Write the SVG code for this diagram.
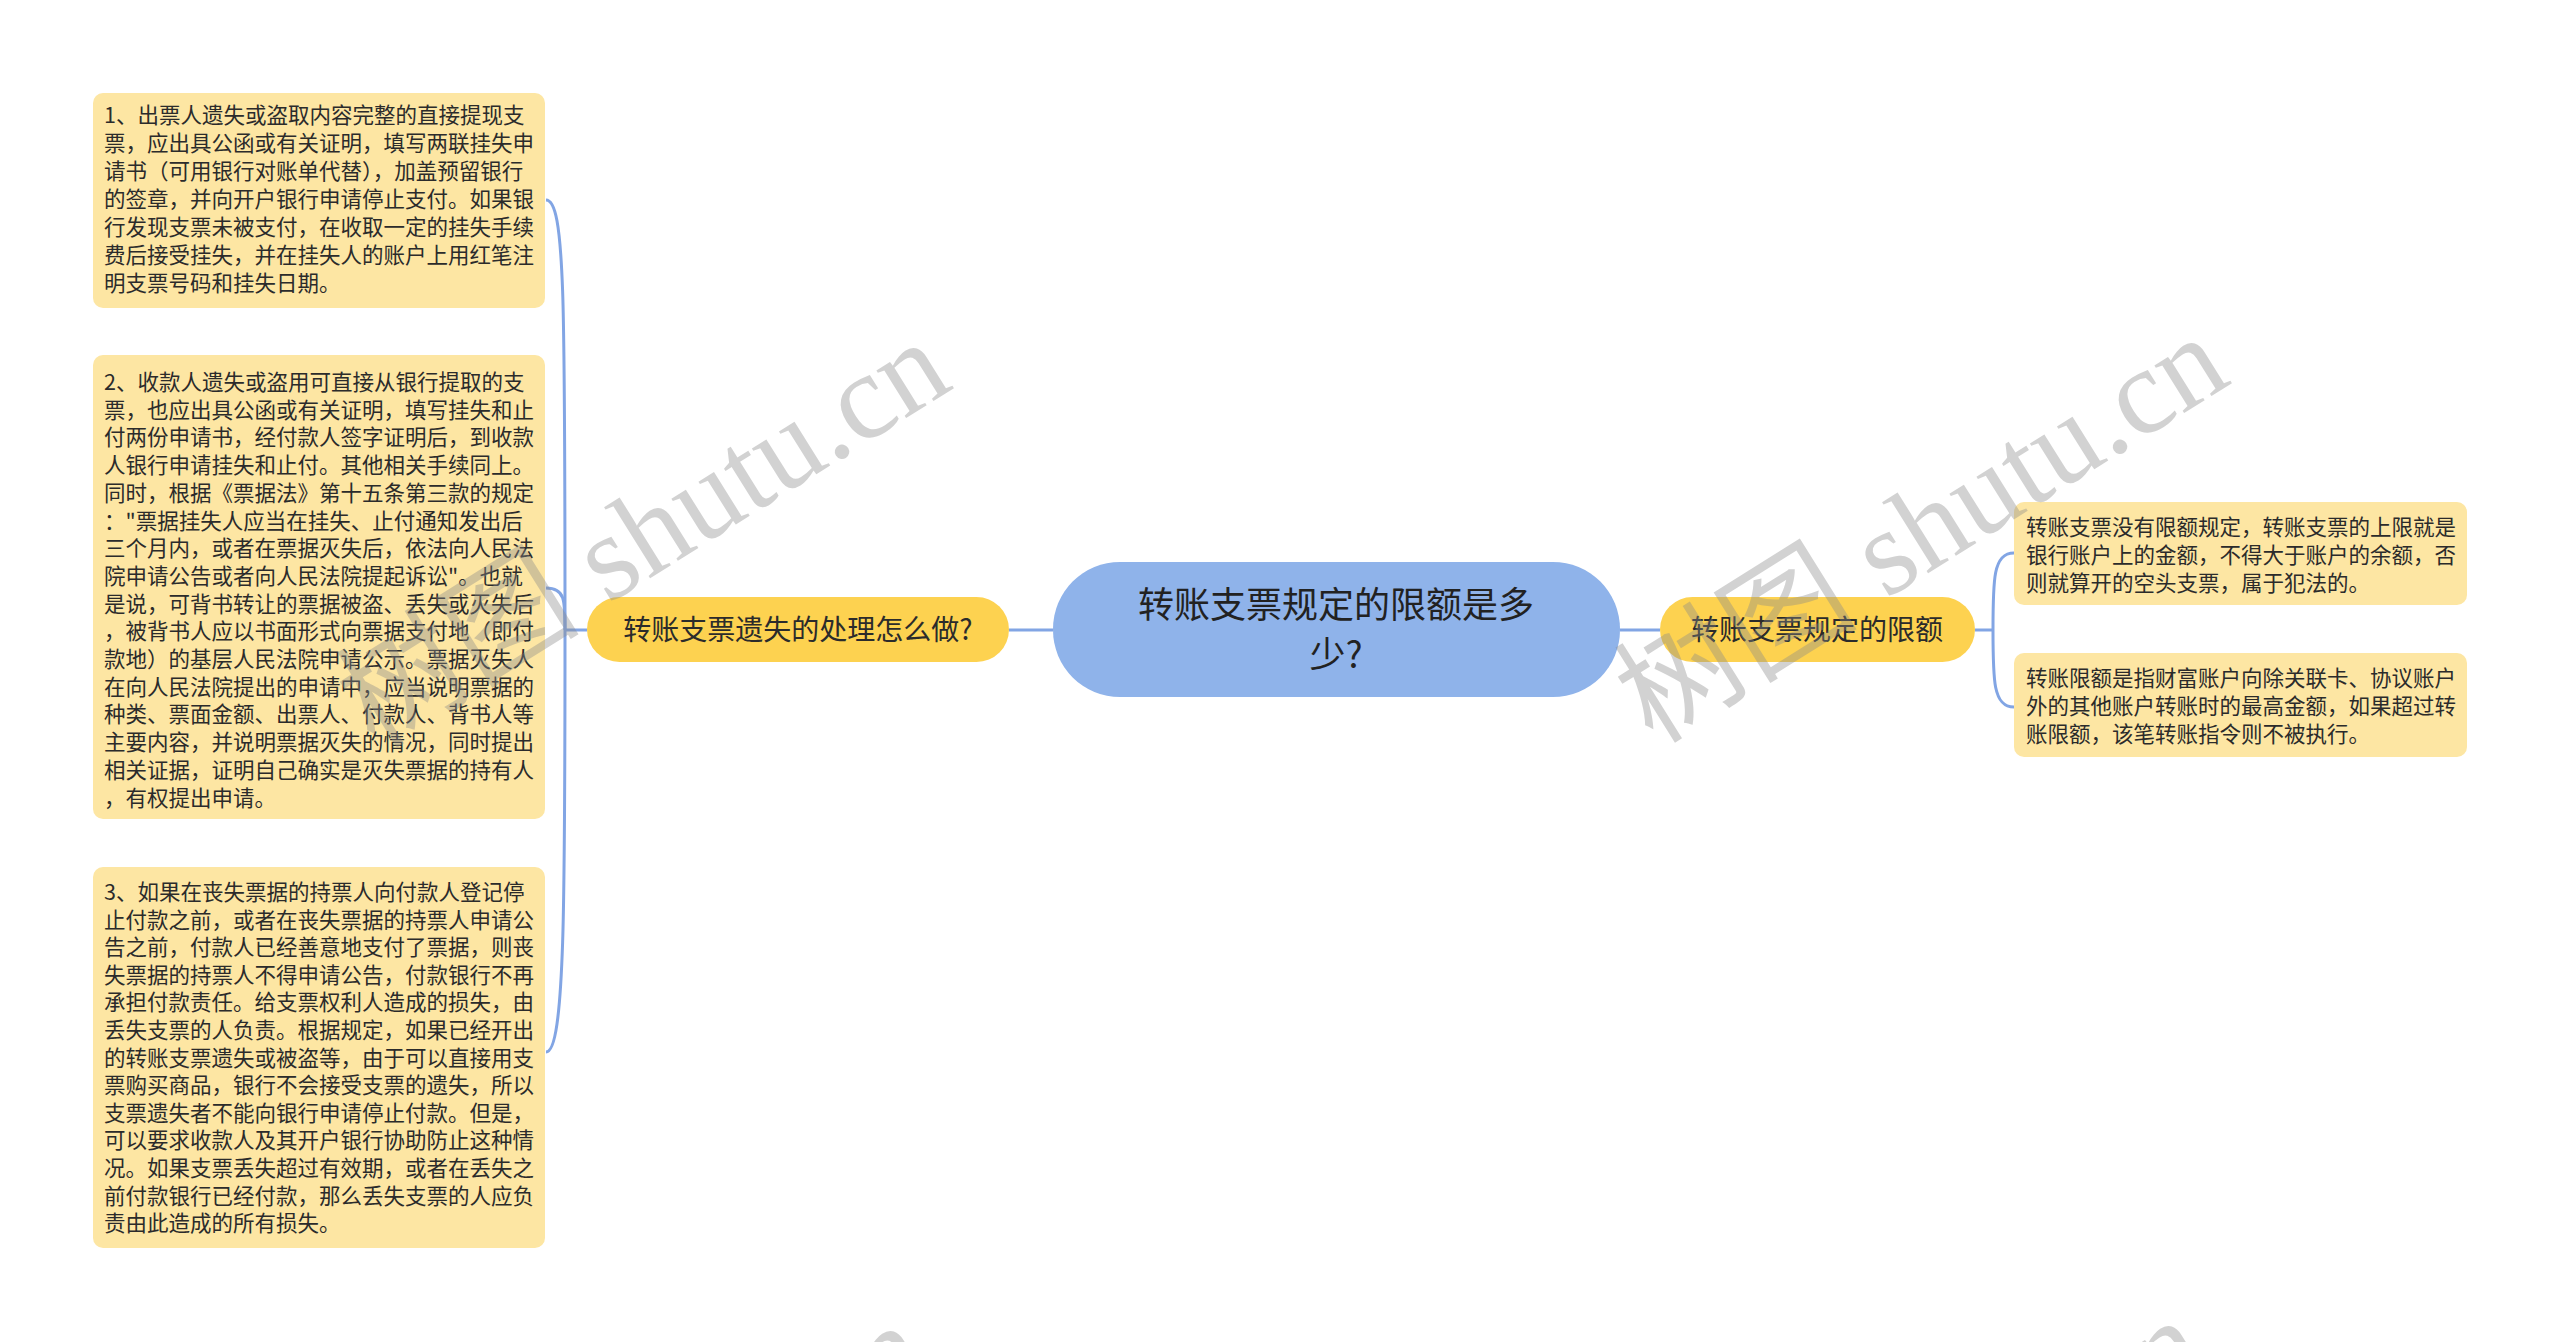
<svg xmlns="http://www.w3.org/2000/svg" width="2560" height="1342" viewBox="0 0 2560 1342">
<style>
.leaf{fill:#fde6a3;}
.branch{fill:#fdd250;}
.root{fill:#8fb3ea;}
.t{font-family:"Noto Sans CJK SC","Noto Sans",sans-serif;fill:#2b2b2b;}
.lt{font-size:21.5px;}
.bt{font-size:28px;text-anchor:middle;}
.rt{font-size:36px;text-anchor:middle;fill:#222;}
.conn{fill:none;stroke:#82a5e4;stroke-width:3;}
.wm{font-family:"Liberation Serif","Noto Sans CJK SC",serif;font-size:122px;fill:#8a8a8a;opacity:0.38;}
</style>
<rect width="2560" height="1342" fill="#ffffff"/>
<g id="connectors">
<path class="conn" d="M1009,630 L1053,630"/>
<path class="conn" d="M1620,630 L1660,630"/>
<path class="conn" d="M587,630 L565,630"/>
<path class="conn" d="M565,630 C565,300 565,200 546,200"/>
<path class="conn" d="M565,630 C565,600 565,588 546,588"/>
<path class="conn" d="M565,630 C565,900 565,1052 546,1052"/>
<path class="conn" d="M1975,630 L1993,630"/>
<path class="conn" d="M1993,630 C1993,580 1993,553 2014,553"/>
<path class="conn" d="M1993,630 C1993,680 1993,707 2014,707"/>
</g>
<g id="root">
<rect class="root" x="1053" y="562" width="567" height="135" rx="67"/>
<text class="t rt" x="1336" y="618">转账支票规定的限额是多</text>
<text class="t rt" x="1336" y="668">少?</text>
</g>
<g id="branch-left">
<rect class="branch" x="587" y="597" width="422" height="65" rx="32.5"/>
<text class="t bt" x="798" y="640">转账支票遗失的处理怎么做?</text>
</g>
<g id="branch-right">
<rect class="branch" x="1660" y="597" width="315" height="65" rx="32.5"/>
<text class="t bt" x="1817" y="640">转账支票规定的限额</text>
</g>
<g id="leaf-1">
<rect class="leaf" x="93" y="93" width="452" height="215" rx="10"/>
<text class="t lt" x="104" y="123">1、出票人遗失或盗取内容完整的直接提现支</text>
<text class="t lt" x="104" y="151">票，应出具公函或有关证明，填写两联挂失申</text>
<text class="t lt" x="104" y="179">请书（可用银行对账单代替），加盖预留银行</text>
<text class="t lt" x="104" y="207">的签章，并向开户银行申请停止支付。如果银</text>
<text class="t lt" x="104" y="235">行发现支票未被支付，在收取一定的挂失手续</text>
<text class="t lt" x="104" y="263">费后接受挂失，并在挂失人的账户上用红笔注</text>
<text class="t lt" x="104" y="291">明支票号码和挂失日期。</text>
</g>
<g id="leaf-2">
<rect class="leaf" x="93" y="355" width="452" height="464" rx="10"/>
<text class="t lt" x="104" y="390">2、收款人遗失或盗用可直接从银行提取的支</text>
<text class="t lt" x="104" y="417.7">票，也应出具公函或有关证明，填写挂失和止</text>
<text class="t lt" x="104" y="445.4">付两份申请书，经付款人签字证明后，到收款</text>
<text class="t lt" x="104" y="473.1">人银行申请挂失和止付。其他相关手续同上。</text>
<text class="t lt" x="104" y="500.8">同时，根据《票据法》第十五条第三款的规定</text>
<text class="t lt" x="104" y="528.5">："票据挂失人应当在挂失、止付通知发出后</text>
<text class="t lt" x="104" y="556.2">三个月内，或者在票据灭失后，依法向人民法</text>
<text class="t lt" x="104" y="583.9">院申请公告或者向人民法院提起诉讼"。也就</text>
<text class="t lt" x="104" y="611.6">是说，可背书转让的票据被盗、丢失或灭失后</text>
<text class="t lt" x="104" y="639.3">，被背书人应以书面形式向票据支付地（即付</text>
<text class="t lt" x="104" y="667">款地）的基层人民法院申请公示。票据灭失人</text>
<text class="t lt" x="104" y="694.7">在向人民法院提出的申请中，应当说明票据的</text>
<text class="t lt" x="104" y="722.4">种类、票面金额、出票人、付款人、背书人等</text>
<text class="t lt" x="104" y="750.1">主要内容，并说明票据灭失的情况，同时提出</text>
<text class="t lt" x="104" y="777.8">相关证据，证明自己确实是灭失票据的持有人</text>
<text class="t lt" x="104" y="805.5">，有权提出申请。</text>
</g>
<g id="leaf-3">
<rect class="leaf" x="93" y="867" width="452" height="381" rx="10"/>
<text class="t lt" x="104" y="900">3、如果在丧失票据的持票人向付款人登记停</text>
<text class="t lt" x="104" y="927.6">止付款之前，或者在丧失票据的持票人申请公</text>
<text class="t lt" x="104" y="955.2">告之前，付款人已经善意地支付了票据，则丧</text>
<text class="t lt" x="104" y="982.8">失票据的持票人不得申请公告，付款银行不再</text>
<text class="t lt" x="104" y="1010.4">承担付款责任。给支票权利人造成的损失，由</text>
<text class="t lt" x="104" y="1038">丢失支票的人负责。根据规定，如果已经开出</text>
<text class="t lt" x="104" y="1065.6">的转账支票遗失或被盗等，由于可以直接用支</text>
<text class="t lt" x="104" y="1093.2">票购买商品，银行不会接受支票的遗失，所以</text>
<text class="t lt" x="104" y="1120.8">支票遗失者不能向银行申请停止付款。但是，</text>
<text class="t lt" x="104" y="1148.4">可以要求收款人及其开户银行协助防止这种情</text>
<text class="t lt" x="104" y="1176">况。如果支票丢失超过有效期，或者在丢失之</text>
<text class="t lt" x="104" y="1203.6">前付款银行已经付款，那么丢失支票的人应负</text>
<text class="t lt" x="104" y="1231.2">责由此造成的所有损失。</text>
</g>
<g id="leaf-4">
<rect class="leaf" x="2014" y="502" width="453" height="103" rx="10"/>
<text class="t lt" x="2026" y="535">转账支票没有限额规定，转账支票的上限就是</text>
<text class="t lt" x="2026" y="563">银行账户上的金额，不得大于账户的余额，否</text>
<text class="t lt" x="2026" y="591">则就算开的空头支票，属于犯法的。</text>
</g>
<g id="leaf-5">
<rect class="leaf" x="2014" y="653" width="453" height="104" rx="10"/>
<text class="t lt" x="2026" y="686">转账限额是指财富账户向除关联卡、协议账户</text>
<text class="t lt" x="2026" y="714">外的其他账户转账时的最高金额，如果超过转</text>
<text class="t lt" x="2026" y="742">账限额，该笔转账指令则不被执行。</text>
</g>
<g id="watermarks">
<text class="wm" transform="translate(375,750) rotate(-32)">树图 shutu.cn</text>
<text class="wm" transform="translate(1653,745) rotate(-32)">树图 shutu.cn</text>
<text class="wm" transform="translate(352,1733) rotate(-32)">树图 shutu.cn</text>
<text class="wm" transform="translate(1630,1728) rotate(-32)">树图 shutu.cn</text>
</g>
</svg>
